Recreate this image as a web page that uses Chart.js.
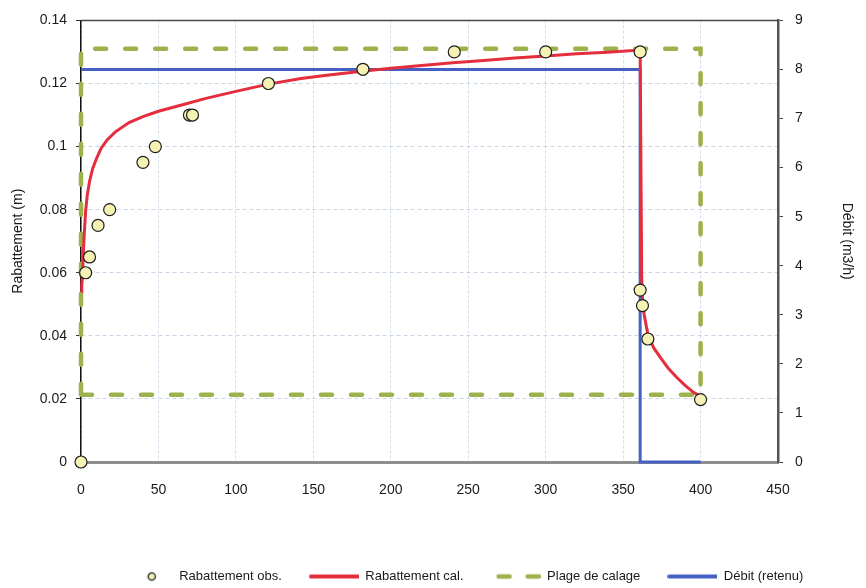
<!DOCTYPE html>
<html>
<head>
<meta charset="utf-8">
<script src="https://cdn.jsdelivr.net/npm/chart.js@4.4.1/dist/chart.umd.min.js"></script>
<style>
html,body{margin:0;padding:0;background:#fff;}
#wrap{width:866px;height:588px;position:relative;}
</style>
</head>
<body>
<div id="wrap"><canvas id="c" width="866" height="588"></canvas></div>
<script>
// ---- Data ----
const obsTime     = [0, 3, 5.5, 11, 18.5, 40, 48, 70, 72, 121, 182, 241, 300, 361, 361, 362.5, 366, 400];
const obsDrawdown = [0, 0.060, 0.065, 0.075, 0.080, 0.095, 0.100, 0.110, 0.110, 0.120, 0.1245, 0.130, 0.130, 0.130, 0.0545, 0.0496, 0.039, 0.0198];

const calcTime     = [0.3, 0.5, 1, 1.5, 2, 3, 4, 5.5, 7.5, 10, 13, 17, 22, 31, 40, 50, 65, 80, 100, 121, 142, 160, 180, 200, 220, 240, 260, 280, 300, 320, 340, 361,
                      362, 362.5, 363.5, 365, 366.4, 370, 374, 379, 384.7, 390, 395.4, 400];
const calcDrawdown = [0.054, 0.056, 0.0595, 0.066, 0.0715, 0.0795, 0.0845, 0.0889, 0.093, 0.0962, 0.0995, 0.1022, 0.1046, 0.1076, 0.1095, 0.1112, 0.1132, 0.1152, 0.1175, 0.1198, 0.1216, 0.1227, 0.1238, 0.1248, 0.1257, 0.1266, 0.1273, 0.1281, 0.1287, 0.1294, 0.1299, 0.1306,
                      0.058, 0.052, 0.047, 0.043, 0.0395, 0.036, 0.0332, 0.0298, 0.0268, 0.0243, 0.0221, 0.0208];

const calageTime     = [0, 400, 400, 0, 0];
const calageDrawdown = [0.0213, 0.0213, 0.131, 0.131, 0.0213];

const debitTime = [0, 361, 361, 400];
const debitRate = [8, 8, 0, 0];

const xTicks = [0, 50, 100, 150, 200, 250, 300, 350, 400, 450];
const yTicks = [0, 0.02, 0.04, 0.06, 0.08, 0.1, 0.12, 0.14];
const yTickLabels = ['0', '0.02', '0.04', '0.06', '0.08', '0.1', '0.12', '0.14'];
const y2Ticks = [0, 1, 2, 3, 4, 5, 6, 7, 8, 9];

const seriesLabels = ['Rabattement obs.', 'Rabattement cal.', 'Plage de calage', 'Débit (retenu)'];

// ---- Styles ----
const RED = '#e42d3d', BLUE = '#4460c2', GREEN = '#9db14c', PT_FILL = '#f6f2b4', PT_EDGE = '#1e1e1e';
const FONT = "'Liberation Sans', Arial, sans-serif";
Chart.defaults.font.family = FONT;
Chart.defaults.color = '#1a1a1a';

const toXY = (xs, ys) => xs.map((x, i) => ({x: x, y: ys[i]}));

// legend symbols
function symbol(draw) {
  const c = document.createElement('canvas');
  c.width = 50; c.height = 12;
  const g = c.getContext('2d');
  draw(g);
  return c;
}
const legendSymbols = [
  symbol(g => { g.beginPath(); g.arc(29, 6, 3.6, 0, Math.PI * 2); g.fillStyle = PT_FILL; g.fill(); g.lineWidth = 1.3; g.strokeStyle = PT_EDGE; g.stroke(); }),
  symbol(g => { g.lineCap = 'round'; g.lineWidth = 4; g.strokeStyle = RED; g.beginPath(); g.moveTo(2, 6); g.lineTo(49, 6); g.stroke(); }),
  symbol(g => { g.lineCap = 'round'; g.lineWidth = 4.5; g.strokeStyle = GREEN; g.beginPath(); g.moveTo(8, 6); g.lineTo(19, 6); g.moveTo(37, 6); g.lineTo(48, 6); g.stroke(); }),
  symbol(g => { g.lineCap = 'round'; g.lineWidth = 4; g.strokeStyle = BLUE; g.beginPath(); g.moveTo(2, 6); g.lineTo(49, 6); g.stroke(); })
];

const LEG_DX = 30, LEG_DY = 5;
const framePlugin = {
  id: 'frame',
  afterLayout(chart) {
    const lg = chart.legend;
    if (lg) { lg.left += LEG_DX; lg.right += LEG_DX; lg.top += LEG_DY; lg.bottom += LEG_DY; }
  },
  beforeDatasetsDraw(chart) {
    const {ctx, chartArea: a} = chart;
    ctx.save();
    ctx.strokeStyle = '#4a4a4a';
    ctx.lineWidth = 1.5;
    ctx.beginPath();
    ctx.moveTo(a.left, a.top);
    ctx.lineTo(a.right, a.top);
    ctx.stroke();
    ctx.restore();
  }
};

const tickFont = {size: 14};
const gridColor = 'rgba(160,182,210,0.55)';

new Chart(document.getElementById('c'), {
  type: 'line',
  data: {
    datasets: [
      {
        label: seriesLabels[0],
        data: toXY(obsTime, obsDrawdown),
        showLine: false,
        pointStyle: 'circle',
        pointRadius: 6,
        pointHoverRadius: 6,
        pointBackgroundColor: PT_FILL,
        pointBorderColor: PT_EDGE,
        pointBorderWidth: 1.2,
        yAxisID: 'y',
        clip: false
      },
      {
        label: seriesLabels[1],
        data: toXY(calcTime, calcDrawdown),
        borderColor: RED,
        borderWidth: 3,
        pointRadius: 0,
        tension: 0,
        fill: false,
        yAxisID: 'y',
        clip: false
      },
      {
        label: seriesLabels[2],
        data: toXY(calageTime, calageDrawdown),
        borderColor: GREEN,
        borderWidth: 4.5,
        borderDash: [11, 19],
        borderCapStyle: 'round',
        pointRadius: 0,
        fill: false,
        yAxisID: 'y',
        clip: false
      },
      {
        label: seriesLabels[3],
        data: toXY(debitTime, debitRate),
        borderColor: BLUE,
        borderWidth: 3,
        pointRadius: 0,
        fill: false,
        yAxisID: 'y2',
        clip: false
      }
    ]
  },
  options: {
    responsive: false,
    animation: false,
    events: [],
    layout: {padding: {left: 0, right: 0, top: 18, bottom: 0}},
    plugins: {
      tooltip: {enabled: false},
      legend: {
        position: 'bottom',
        align: 'center',
        labels: {
          usePointStyle: true,
          pointStyleWidth: 50,
          padding: 27,
          font: {size: 13},
          color: '#1a1a1a',
          generateLabels: (chart) => chart.data.datasets.map((ds, i) => ({
            text: ds.label,
            pointStyle: legendSymbols[i],
            fillStyle: 'rgba(0,0,0,0)',
            strokeStyle: 'rgba(0,0,0,0)',
            lineWidth: 0,
            hidden: false,
            datasetIndex: i,
            fontColor: '#1a1a1a'
          }))
        }
      }
    },
    scales: {
      x: {
        type: 'linear',
        position: 'bottom',
        min: 0, max: 450,
        afterBuildTicks: (s) => { s.ticks = xTicks.map(v => ({value: v})); },
        afterFit: (s) => { s.height = 76; },
        ticks: {font: tickFont, color: '#1a1a1a', padding: 20, maxRotation: 0},
        grid: {color: 'rgba(170,192,218,0.5)', lineWidth: 1, drawTicks: false},
        border: {display: true, color: '#8e8e8e', width: 3, dash: [3, 2]}
      },
      y: {
        type: 'linear',
        position: 'left',
        min: 0, max: 0.14,
        afterBuildTicks: (s) => { s.ticks = yTicks.map(v => ({value: v})); },
        afterFit: (s) => { s.width = 81; },
        ticks: {font: tickFont, color: '#1a1a1a', padding: 9, callback: (v, i) => yTickLabels[i]},
        grid: {color: gridColor, lineWidth: 1, drawTicks: true, tickLength: 5, tickColor: '#333', tickWidth: 1},
        border: {display: true, color: '#111', width: 1.5, dash: [4, 3]},
        title: {display: true, text: 'Rabattement (m)', font: {size: 14}, color: '#1a1a1a', padding: {top: 10, bottom: 0}}
      },
      y2: {
        type: 'linear',
        position: 'right',
        min: 0, max: 9,
        afterBuildTicks: (s) => { s.ticks = y2Ticks.map(v => ({value: v})); },
        afterFit: (s) => { s.width = 88; },
        ticks: {font: tickFont, color: '#1a1a1a', padding: 12},
        grid: {drawOnChartArea: false, drawTicks: true, tickLength: 5, tickColor: '#444', tickWidth: 1},
        border: {display: true, color: '#555', width: 2.5},
        title: {display: true, text: 'Débit (m3/h)', font: {size: 14}, color: '#1a1a1a', padding: {top: 10.5, bottom: 0}}
      }
    }
  },
  plugins: [framePlugin]
});
</script>
</body>
</html>
